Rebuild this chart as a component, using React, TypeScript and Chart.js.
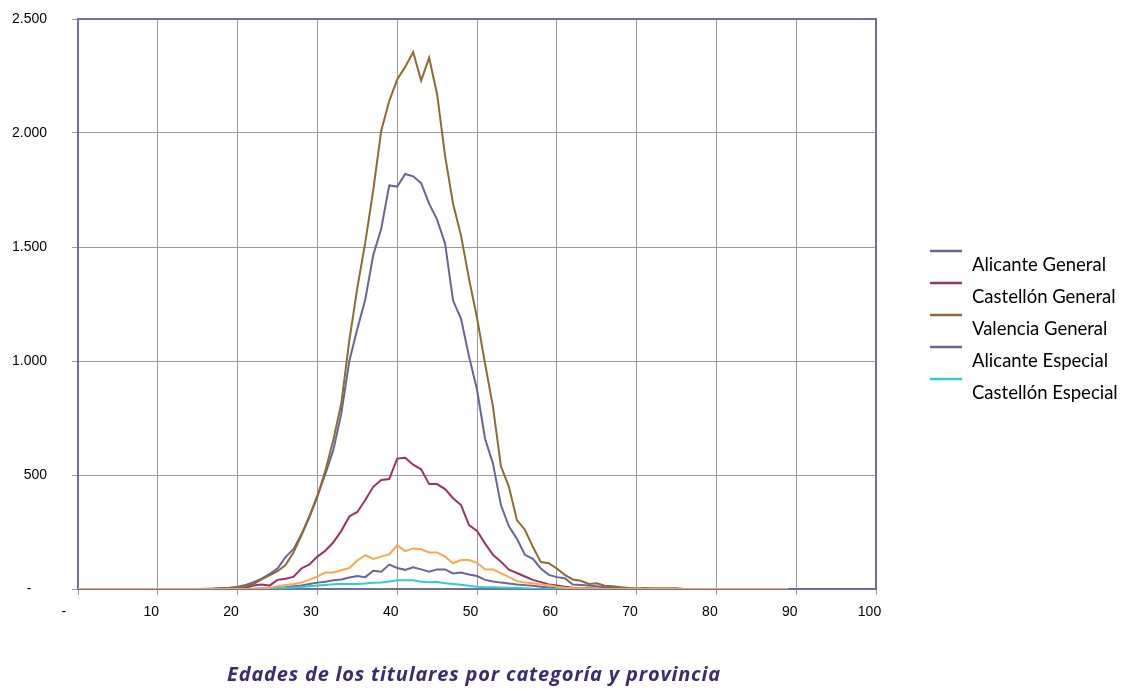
import React, { useEffect, useRef } from 'react';
import { Chart, registerables } from 'chart.js';

Chart.register(...registerables);

const AGES = [
  0, 1, 2, 3, 4, 5, 6, 7, 8, 9,
  10, 11, 12, 13, 14, 15, 16, 17, 18, 19,
  20, 21, 22, 23, 24, 25, 26, 27, 28, 29,
  30, 31, 32, 33, 34, 35, 36, 37, 38, 39,
  40, 41, 42, 43, 44, 45, 46, 47, 48, 49,
  50, 51, 52, 53, 54, 55, 56, 57, 58, 59,
  60, 61, 62, 63, 64, 65, 66, 67, 68, 69,
  70, 71, 72, 73, 74, 75, 76, 77, 78, 79,
  80, 81, 82, 83, 84, 85, 86, 87, 88, 89,
  90, 91, 92, 93, 94, 95, 96, 97, 98, 99,
  100,
];

const ALICANTE_GENERAL = [
  0, 0, 0, 0, 0, 0, 0, 0, 0, 0,
  0, 0, 0, 0, 0, 0, 1, 2, 4, 6,
  10, 18, 30, 45, 65, 90, 140, 175, 240, 320,
  410, 505, 610, 770, 1000, 1140, 1270, 1465, 1580, 1770,
  1765, 1820, 1810, 1780, 1690, 1620, 1515, 1265, 1185, 1020,
  875, 660, 550, 368, 275, 220, 150, 132, 90, 62,
  52, 47, 20, 18, 15, 12, 8, 5, 3, 2,
  1, 0, 0, 0, 0, 0, 0, 0, 0, 0,
  0, 0, 0, 0, 0, 0, 0, 0, 0, 0,
  0, 0, 0, 0, 0, 0, 0, 0, 0, 0,
  0,
];

const CASTELLON_GENERAL = [
  0, 0, 0, 0, 0, 0, 0, 0, 0, 0,
  0, 0, 0, 0, 0, 0, 0, 0, 0, 1,
  2, 5, 15, 20, 15, 40, 45, 53, 90, 108,
  142, 168, 205, 255, 318, 338, 390, 448, 478, 482,
  572, 576, 545, 525, 460, 460, 438, 398, 368, 280,
  255, 200, 150, 120, 85, 70, 55, 40, 30, 20,
  15, 10, 6, 4, 3, 2, 1, 0, 0, 0,
  0,
];

const VALENCIA_GENERAL = [
  0, 0, 0, 0, 0, 0, 0, 0, 0, 0,
  0, 0, 0, 0, 0, 0, 0, 1, 2, 4,
  6, 12, 22, 42, 60, 78, 105, 160, 235, 315,
  405, 520, 655, 815, 1090, 1320, 1520, 1750, 2010, 2140,
  2235, 2290, 2355, 2230, 2330, 2170, 1900, 1690, 1550, 1360,
  1190, 990, 800, 538, 448, 302, 260, 185, 118, 113,
  90, 62, 42, 36, 22, 25, 14, 12, 8, 4,
  2, 4, 3, 3, 3, 3, 0,
];

const ALICANTE_ESPECIAL = [
  0, 0, 0, 0, 0, 0, 0, 0, 0, 0,
  0, 0, 0, 0, 0, 0, 0, 0, 0, 0,
  0, 0, 1, 2, 3, 5, 8, 12, 15, 22,
  28, 32, 38, 42, 50, 57, 52, 80, 76, 107,
  92, 84, 95, 86, 76, 86, 86, 68, 72, 64,
  57, 40, 33, 28, 24, 20, 17, 14, 10, 7,
  5, 3, 2, 1, 0, 0, 0, 0, 0, 0,
  0, 0, 0, 0, 0, 0, 0, 0, 0, 0,
  0, 0, 0, 0, 0, 0, 0, 0, 0, 0,
  0, 0, 0, 0, 0, 0, 0, 0, 0, 0,
  0,
];

const CASTELLON_ESPECIAL = [
  0, 0, 0, 0, 0, 0, 0, 0, 0, 0,
  0, 0, 0, 0, 0, 0, 0, 0, 0, 0,
  0, 0, 0, 1, 2, 3, 5, 7, 9, 12,
  15, 18, 21, 22, 22, 22, 24, 27, 29, 33,
  38, 38, 38, 32, 30, 31, 25, 22, 19, 14,
  10, 8, 8, 7, 6, 5, 3, 1, 0, 0,
  0, 0, 0, 0, 0, 0, 0, 0, 0, 0,
  0,
];

const VALENCIA_ESPECIAL = [
  0, 0, 0, 0, 0, 0, 0, 0, 0, 0,
  0, 0, 0, 0, 0, 0, 0, 0, 0, 0,
  0, 0, 0, 0, 5, 12, 18, 22, 28, 40,
  55, 72, 72, 82, 92, 125, 148, 132, 142, 152,
  192, 166, 178, 174, 160, 160, 142, 113, 127, 127,
  115, 87, 86, 70, 52, 35, 28, 25, 20, 16,
  10, 6, 4, 3, 2, 1, 0, 0, 0, 0,
  0, 0, 0, 0, 0, 0, 0, 0, 0, 0,
  0, 0, 0, 0, 0, 0, 0, 0, 0, 0,
];

const SERIES_LABELS = [
  'Alicante General',
  'Castellón General',
  'Valencia General',
  'Alicante Especial',
  'Castellón Especial',
  'Valencia Especial',
];
const SERIES_VALUES = [
  ALICANTE_GENERAL,
  CASTELLON_GENERAL,
  VALENCIA_GENERAL,
  ALICANTE_ESPECIAL,
  CASTELLON_ESPECIAL,
  VALENCIA_ESPECIAL,
];
const SERIES_COLORS = ['#666699', '#993366', '#8D6B32', '#666699', '#33CCCC', '#FFA64D'];
const LEGEND_COUNT = 5;

const TITLE = 'Edades de los titulares por categoría y provincia';

const W = 1113;
const H = 681;

function fmt(v: number): string {
  if (v === 0) return '-    ';
  return String(v).replace(/\B(?=(\d{3})+(?!\d))/g, '.');
}

const framePlugin = {
  id: 'frame',
  beforeDatasetsDraw(chart: any) {
    const { ctx, chartArea } = chart;
    const { left, top, right, bottom } = chartArea;
    ctx.save();
    ctx.strokeStyle = '#6E6EA0';
    ctx.lineWidth = 2;
    ctx.strokeRect(left, top, right - left, bottom - top);
    ctx.restore();
  },
};

const legendTitlePlugin = {
  id: 'legendTitle',
  afterDraw(chart: any) {
    const ctx = chart.ctx;
    const ds = chart.data.datasets;
    ctx.save();
    for (let i = 0; i < LEGEND_COUNT; i++) {
      const y = 243 + 32 * i;
      ctx.strokeStyle = ds[i].borderColor;
      ctx.lineWidth = 2.5;
      ctx.beginPath();
      ctx.moveTo(922, y);
      ctx.lineTo(954, y);
      ctx.stroke();
      ctx.fillStyle = '#000000';
      ctx.font = '18.5px Lato, "Open Sans", sans-serif';
      ctx.textAlign = 'left';
      ctx.textBaseline = 'alphabetic';
      ctx.fillText(ds[i].label, 964, 263 + 32 * i);
    }
    ctx.fillStyle = '#3d2b70';
    ctx.font = 'italic bold 20px "Open Sans", Lato, sans-serif';
    try {
      (ctx as any).letterSpacing = '0.8px';
    } catch (e) {}
    ctx.textAlign = 'center';
    ctx.textBaseline = 'alphabetic';
    ctx.fillText(TITLE, 466, 673);
    ctx.restore();
  },
};

export default function App() {
  const ref = useRef<HTMLCanvasElement>(null);
  useEffect(() => {
    document.documentElement.style.overflow = 'hidden';
    document.body.style.overflow = 'hidden';
    document.body.style.width = W + 'px';
    const root = document.getElementById('root');
    if (root) {
      root.style.width = W + 'px';
      root.style.height = H + 'px';
    }
    const canvas = ref.current;
    if (!canvas) return;
    const datasets = SERIES_LABELS.map((label, si) => ({
      label,
      data: SERIES_VALUES[si].map((y, i) => ({ x: AGES[i], y })),
      borderColor: SERIES_COLORS[si],
      backgroundColor: SERIES_COLORS[si],
      borderWidth: 2,
      pointRadius: 0,
      tension: 0,
      fill: false,
      order: SERIES_LABELS.length - si,
    }));
    const tickFont = { family: '"Liberation Sans", Arial, sans-serif', size: 14 };
    const chart = new Chart(canvas, {
      type: 'line',
      data: { datasets },
      options: {
        animation: false,
        responsive: false,
        devicePixelRatio: 1,
        layout: { padding: { top: 11, right: W - 868, left: 0, bottom: 0 } },
        plugins: {
          legend: { display: false },
          tooltip: { enabled: false },
          title: { display: false },
        },
        scales: {
          x: {
            type: 'linear',
            min: 0,
            max: 100,
            afterFit: (s: any) => {
              s.height = 100;
              s.paddingLeft = 0;
              s.paddingRight = 0;
            },
            ticks: {
              stepSize: 10,
              autoSkip: false,
              maxRotation: 0,
              color: '#000000',
              font: tickFont,
              padding: 9,
              labelOffset: -6.5,
              callback: (v: any) => fmt(Number(v)),
            },
            grid: { color: '#9a9a9a', lineWidth: 1, tickLength: 6, drawTicks: true },
            border: { display: false },
          },
          y: {
            min: 0,
            max: 2500,
            afterFit: (s: any) => {
              s.width = 70;
              s.paddingTop = 0;
              s.paddingBottom = 0;
            },
            ticks: {
              stepSize: 500,
              color: '#000000',
              font: tickFont,
              padding: 25,
              callback: (v: any) => fmt(Number(v)),
            },
            grid: { color: '#9a9a9a', lineWidth: 1, tickLength: 6, drawTicks: true },
            border: { display: false },
          },
        },
      },
      plugins: [framePlugin, legendTitlePlugin],
    } as any);
    return () => chart.destroy();
  }, []);
  return (
    <div style={{ position: 'relative', width: W, height: H }}>
      <canvas ref={ref} width={W} height={H} style={{ display: 'block', width: W, height: H }} />
    </div>
  );
}
